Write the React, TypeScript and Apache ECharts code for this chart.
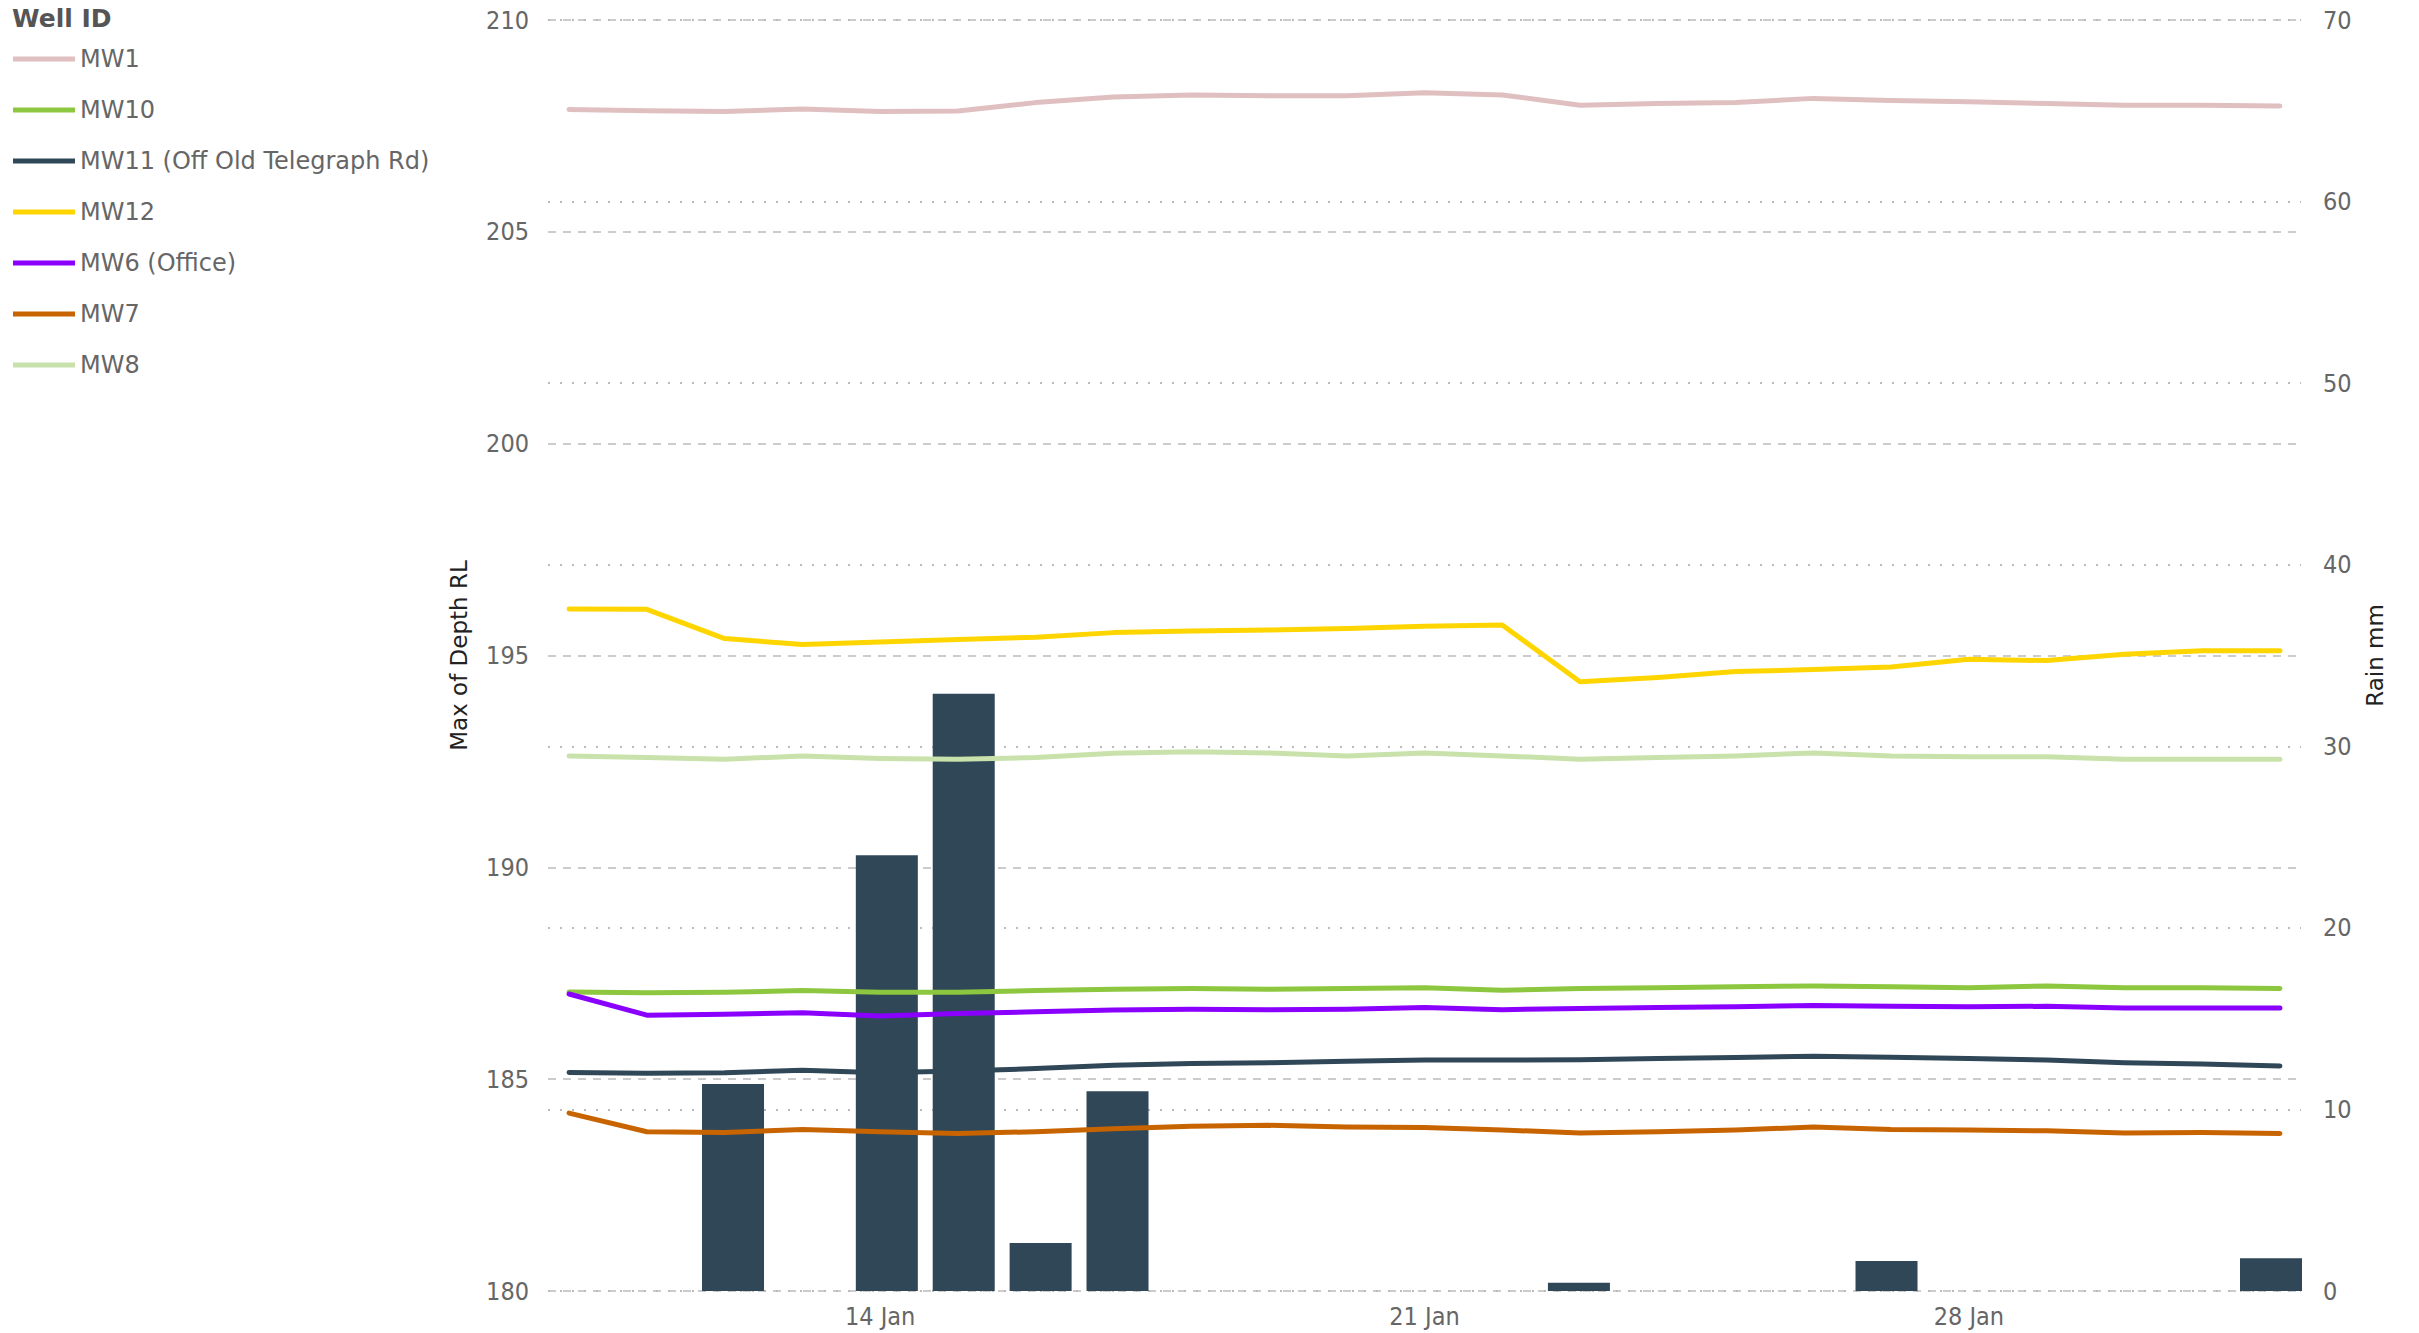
import React, { useEffect, useRef } from "react";
import * as echarts from "echarts";

// Daily readings, 10 Jan – 1 Feb
const dates = [
  "2024-01-10", "2024-01-11", "2024-01-12", "2024-01-13", "2024-01-14", "2024-01-15",
  "2024-01-16", "2024-01-17", "2024-01-18", "2024-01-19", "2024-01-20", "2024-01-21",
  "2024-01-22", "2024-01-23", "2024-01-24", "2024-01-25", "2024-01-26", "2024-01-27",
  "2024-01-28", "2024-01-29", "2024-01-30", "2024-01-31", "2024-02-01",
];

const xTickDates = ["2024-01-14", "2024-01-21", "2024-01-28"];

const MW1 = [207.89, 207.86, 207.84, 207.9, 207.84, 207.85, 208.05, 208.18, 208.23, 208.21, 208.21, 208.28, 208.23, 207.99, 208.03, 208.05, 208.15, 208.1, 208.07, 208.03, 207.99, 207.99, 207.97];
const MW10 = [187.06, 187.04, 187.05, 187.09, 187.05, 187.05, 187.09, 187.12, 187.14, 187.12, 187.14, 187.16, 187.1, 187.14, 187.16, 187.18, 187.2, 187.18, 187.16, 187.2, 187.16, 187.16, 187.14];
const MW11 = [185.16, 185.14, 185.15, 185.21, 185.15, 185.19, 185.25, 185.33, 185.37, 185.39, 185.42, 185.45, 185.45, 185.46, 185.49, 185.51, 185.54, 185.52, 185.49, 185.45, 185.39, 185.36, 185.31];
const MW12 = [196.1, 196.09, 195.4, 195.26, 195.32, 195.38, 195.43, 195.54, 195.58, 195.6, 195.64, 195.69, 195.72, 194.38, 194.48, 194.62, 194.67, 194.73, 194.91, 194.88, 195.03, 195.11, 195.11];
const MW6 = [187.01, 186.51, 186.53, 186.57, 186.49, 186.55, 186.59, 186.63, 186.65, 186.64, 186.65, 186.69, 186.64, 186.67, 186.69, 186.71, 186.74, 186.72, 186.71, 186.72, 186.68, 186.68, 186.68];
const MW7 = [184.2, 183.76, 183.74, 183.81, 183.76, 183.72, 183.76, 183.83, 183.89, 183.91, 183.87, 183.86, 183.8, 183.73, 183.76, 183.8, 183.87, 183.81, 183.8, 183.78, 183.73, 183.74, 183.72];
const MW8 = [192.63, 192.59, 192.55, 192.63, 192.57, 192.55, 192.59, 192.69, 192.73, 192.7, 192.63, 192.7, 192.63, 192.55, 192.59, 192.63, 192.7, 192.63, 192.61, 192.61, 192.55, 192.55, 192.55];

const rainDates = ["2024-01-12", "2024-01-14", "2024-01-15", "2024-01-16", "2024-01-17", "2024-01-23", "2024-01-27", "2024-02-01"];
const rainMm = [11.4, 24.0, 32.9, 2.65, 11.0, 0.45, 1.65, 1.8];

const wellNames = ["MW1", "MW10", "MW11 (Off Old Telegraph Rd)", "MW12", "MW6 (Office)", "MW7", "MW8"];
const wellValues = [MW1, MW10, MW11, MW12, MW6, MW7, MW8];
const wellColors = ["#E0BFC1", "#8DC63F", "#2F4756", "#FFD500", "#8A00FF", "#C86400", "#C9E2AB"];

const MONTHS = ["Jan", "Feb", "Mar", "Apr", "May", "Jun", "Jul", "Aug", "Sep", "Oct", "Nov", "Dec"];

export default function App() {
  const ref = useRef<HTMLDivElement>(null);

  useEffect(() => {
    document.body.style.margin = "0";
    if (!ref.current) return;
    const chart = echarts.init(ref.current, undefined, { renderer: "svg" });

    const DAY = 24 * 3600 * 1000;
    const ts = dates.map((d) => Date.parse(d));
    const pad = 0.2708 * DAY;
    const rainTs = rainDates.map((d) => Date.parse(d));
    const tickFont = "'Liberation Sans Narrow', 'DejaVu Sans Condensed', sans-serif";
    const mainFont = "'DejaVu Sans', Verdana, sans-serif";

    const lineSeries = wellNames.map((name, i) => ({
      name,
      type: "line",
      xAxisIndex: 0,
      yAxisIndex: 0,
      data: ts.map((t, j) => [t, wellValues[i][j]]),
      showSymbol: false,
      symbol: "none",
      z: 3,
      lineStyle: { color: wellColors[i], width: 5, cap: "round", join: "round" },
      itemStyle: { color: wellColors[i] },
    }));

    const labelFormatter = (v: number) => {
      const d = new Date(v);
      return d.getUTCDate() + " " + MONTHS[d.getUTCMonth()];
    };

    const option = {
      animation: false,
      backgroundColor: "#ffffff",
      title: {
        text: "Well ID",
        left: 7,
        top: 1,
        textStyle: { fontFamily: mainFont, fontSize: 25, fontWeight: "bold", color: "#555555" },
      },
      legend: {
        orient: "vertical",
        left: 8,
        top: 39,
        data: wellNames,
        icon: "rect",
        itemWidth: 62,
        itemHeight: 5,
        itemGap: 21,
        textStyle: { fontFamily: mainFont, fontSize: 24, color: "#666666", lineHeight: 30 },
      },
      grid: { left: 548, right: 118, top: 20, bottom: 42, containLabel: false },
      xAxis: [
        {
          type: "value",
          min: ts[0] - pad,
          max: ts[ts.length - 1] + pad,
          axisLine: { show: false },
          axisTick: { show: false },
          splitLine: { show: false },
          axisLabel: {
            customValues: xTickDates.map((d) => Date.parse(d)),
            fontFamily: tickFont,
            fontSize: 25,
            color: "#666666",
            margin: 13,
            formatter: labelFormatter,
          },
        },
        {
          // rain bars sit on their own (hidden) date scale, as in the source visual
          type: "value",
          position: "bottom",
          min: rainTs[0] - 2.406 * DAY,
          max: rainTs[0] + 20.39 * DAY,
          show: false,
          axisLine: { show: false },
          axisTick: { show: false },
          axisLabel: { show: false },
          splitLine: { show: false },
        },
      ],
      yAxis: [
        {
          type: "value",
          min: 180,
          max: 210,
          interval: 5,
          name: "Max of Depth RL",
          nameLocation: "middle",
          nameRotate: 90,
          nameGap: 78,
          nameTextStyle: { fontFamily: mainFont, fontSize: 23, color: "#222222" },
          axisLine: { show: false },
          axisTick: { show: false },
          axisLabel: { fontFamily: tickFont, fontSize: 25, color: "#666666", margin: 19 },
          splitLine: { show: true, lineStyle: { color: "#CCCCCC", width: 2, type: [8, 7] } },
        },
        {
          type: "value",
          min: 0,
          max: 70,
          interval: 10,
          position: "right",
          name: "Rain mm",
          nameLocation: "middle",
          nameRotate: 90,
          nameGap: 62,
          nameTextStyle: { fontFamily: mainFont, fontSize: 23, color: "#222222" },
          axisLine: { show: false },
          axisTick: { show: false },
          axisLabel: { fontFamily: tickFont, fontSize: 25, color: "#666666", margin: 22 },
          splitLine: { show: true, lineStyle: { color: "#BBBBBB", width: 2, type: [2, 10] } },
        },
      ],
      series: [
        {
          name: "Rain",
          type: "bar",
          xAxisIndex: 1,
          yAxisIndex: 1,
          barWidth: 62,
          z: 1,
          data: rainTs.map((t, i) => [t, rainMm[i]]),
          itemStyle: { color: "#2F4756" },
        },
        ...lineSeries,
      ],
    };

    chart.setOption(option as any);
    return () => chart.dispose();
  }, []);

  return <div ref={ref} style={{ width: 2419, height: 1333 }} />;
}
